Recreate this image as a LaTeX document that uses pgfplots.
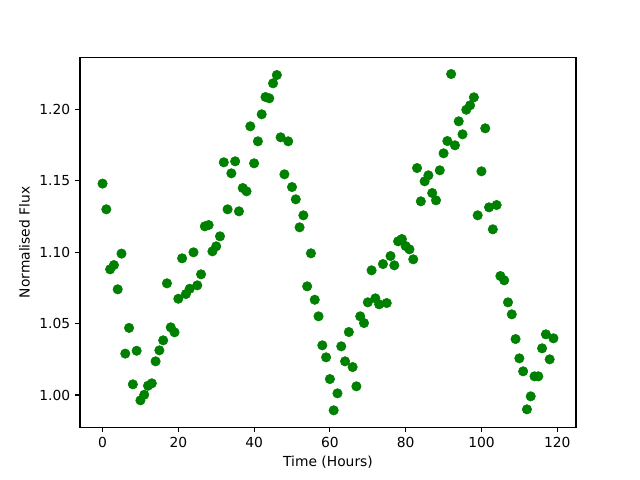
\documentclass[border=0pt]{standalone}
\usepackage{fontspec}
\setmainfont{DejaVu Sans}
\usepackage{pgfplots}
\pgfplotsset{compat=1.18}
\definecolor{mplgreen}{HTML}{008000}
\begin{document}
\begin{tikzpicture}
\path[use as bounding box] (-57.6bp,-38.02bp) rectangle (403.2bp,307.58bp);
\begin{axis}[
  at={(0,0)}, anchor=south west,
  scale only axis,
  width=357.12bp, height=266.11bp,
  xmin=-5.95, xmax=124.95,
  ymin=0.9775, ymax=1.2362,
  xtick={0,20,40,60,80,100,120},
  ytick={1.00,1.05,1.10,1.15,1.20},
  yticklabel style={/pgf/number format/.cd, fixed, fixed zerofill, precision=2},
  /pgf/number format/assume math mode=true,
  tick align=outside,
  major tick length=3.5bp,
  xtick pos=bottom, ytick pos=left,
  axis line style={line width=0.8bp},
  every tick/.style={line width=0.8bp, black},
  tick label style={font=\fontsize{10}{12}\selectfont},
  label style={font=\fontsize{10}{12}\selectfont},
  xlabel={Time (Hours)},
  ylabel={Normalised Flux},
  xlabel style={yshift=1bp},
  ylabel style={yshift=0bp},
]
\addplot[only marks, mark=*, mark size=3.4bp, color=mplgreen, mark options={fill=mplgreen, draw=mplgreen}] table {
x y
0 1.148
1 1.130
2 1.088
3 1.091
4 1.074
5 1.099
6 1.029
7 1.047
8 1.0075
9 1.031
10 0.9963
11 1.0002
12 1.0065
13 1.0082
14 1.0236
15 1.0313
16 1.0383
17 1.0782
18 1.0474
19 1.0439
20 1.0674
21 1.0957
22 1.0707
23 1.0744
24 1.0999
25 1.0768
26 1.0845
27 1.1181
28 1.1190
29 1.1006
30 1.1041
31 1.1111
32 1.1629
33 1.1300
34 1.1552
35 1.1636
36 1.1286
37 1.1449
38 1.1426
39 1.1881
40 1.1622
41 1.1776
42 1.1965
43 1.2086
44 1.2077
45 1.2182
46 1.2240
47 1.1804
48 1.1545
49 1.1776
50 1.1456
51 1.1370
52 1.1174
53 1.1258
54 1.0761
55 1.0992
56 1.0667
57 1.0551
58 1.0348
59 1.0264
60 1.0112
61 0.9893
62 1.0012
63 1.0341
64 1.0236
65 1.0441
66 1.0196
67 1.0061
68 1.0551
69 1.0504
70 1.0649
71 1.0873
72 1.0677
73 1.0635
74 1.0917
75 1.0644
76 1.0973
77 1.0908
78 1.1076
79 1.1092
80 1.1043
81 1.1020
82 1.0950
83 1.1589
84 1.1356
85 1.1496
86 1.1538
87 1.1414
88 1.1363
89 1.1573
90 1.1692
91 1.1778
92 1.2247
93 1.1748
94 1.1916
95 1.1825
96 1.1997
97 1.2028
98 1.2084
99 1.1258
100 1.1566
101 1.1867
102 1.1314
103 1.1160
104 1.1330
105 1.0833
106 1.0803
107 1.0649
108 1.0565
109 1.0392
110 1.0257
111 1.0166
112 0.9900
113 0.9991
114 1.0131
115 1.0131
116 1.0327
117 1.0425
118 1.0250
119 1.0397
};
\end{axis}
\end{tikzpicture}
\end{document}
